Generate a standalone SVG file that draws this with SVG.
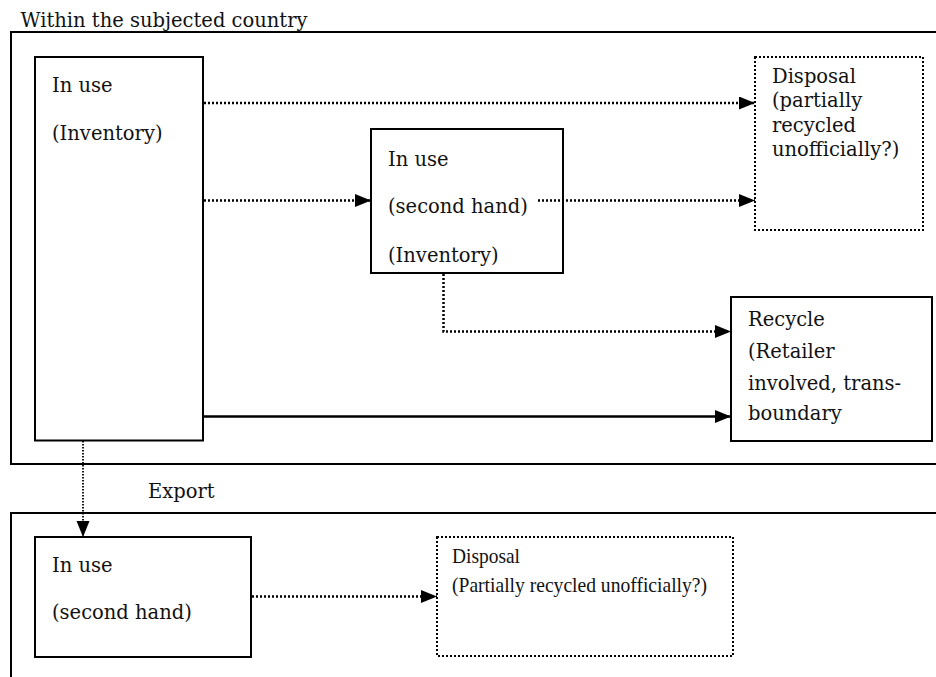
<svg xmlns="http://www.w3.org/2000/svg" width="936" height="677" viewBox="0 0 936 677">
  <style>
    .frame { fill: none; stroke: #000; stroke-width: 2; }
    .box { fill: #fff; stroke: #000; stroke-width: 2; }
    .dbox { fill: #fff; stroke: #000; stroke-width: 2; stroke-dasharray: 2 2; }
    .t { font-family: "DejaVu Serif", serif; font-size: 19.5px; fill: #111; }
    .tn { font-family: "Liberation Serif", serif; font-size: 22px; fill: #111; }
    .flow { fill: none; stroke: #000; stroke-width: 2.5; stroke-dasharray: 2 2; }
    .solid { fill: none; stroke: #000; stroke-width: 2.5; }
    .thin { fill: none; stroke: #000; stroke-width: 1.8; stroke-dasharray: 1.5 1.5; }
  </style>
  <defs>
    <marker id="arrow" markerUnits="userSpaceOnUse" markerWidth="17" markerHeight="14" refX="16" refY="6.5" orient="auto">
      <path d="M0,0 L16,6.5 L0,13 z" fill="#000"/>
    </marker>
  </defs>
  <rect width="936" height="677" fill="#fff"/>

  <!-- Regions -->
  <g id="domestic-region">
    <rect class="frame" x="11" y="32" width="940" height="432"/>
    <text class="t" x="20.5" y="27">Within the subjected country</text>
  </g>
  <g id="export-region">
    <rect class="frame" x="11" y="513" width="940" height="200"/>
    <text class="t" x="148" y="498">Export</text>
  </g>

  <!-- Nodes -->
  <g id="in-use-inventory">
    <rect class="box" x="35" y="57" width="168" height="383.5"/>
    <text class="t" x="52" y="92">In use</text>
    <text class="t" x="52" y="140">(Inventory)</text>
  </g>
  <g id="in-use-second-hand">
    <rect class="box" x="371" y="129" width="192" height="144"/>
    <text class="t" x="388" y="166">In use</text>
    <text class="t" x="388" y="213">(second hand)</text>
    <text class="t" x="388" y="262">(Inventory)</text>
  </g>
  <g id="disposal">
    <rect class="dbox" x="755" y="57" width="168" height="173"/>
    <text class="t" x="772" y="83">Disposal</text>
    <text class="t" x="772" y="107">(partially</text>
    <text class="t" x="772" y="132">recycled</text>
    <text class="t" x="772" y="156">unofficially?)</text>
  </g>
  <g id="recycle">
    <rect class="box" x="731" y="297" width="201" height="144"/>
    <text class="t" x="748" y="326">Recycle</text>
    <text class="t" x="748" y="358">(Retailer</text>
    <text class="t" x="748" y="390">involved, trans-</text>
    <text class="t" x="748" y="420">boundary</text>
  </g>
  <g id="export-in-use">
    <rect class="box" x="35" y="537" width="216" height="120"/>
    <text class="t" x="52" y="572">In use</text>
    <text class="t" x="52" y="619">(second hand)</text>
  </g>
  <g id="export-disposal">
    <rect class="dbox" x="437" y="537" width="296" height="119"/>
    <text class="tn" x="452" y="563" textLength="68" lengthAdjust="spacingAndGlyphs">Disposal</text>
    <text class="tn" x="452" y="592" textLength="255" lengthAdjust="spacingAndGlyphs">(Partially recycled unofficially?)</text>
  </g>

  <!-- Connectors -->
  <g id="connectors">
    <line class="flow" x1="204" y1="103" x2="755" y2="103" marker-end="url(#arrow)"/>
    <line class="flow" x1="204" y1="200.5" x2="371" y2="200.5" marker-end="url(#arrow)"/>
    <line class="flow" x1="538" y1="200.5" x2="755" y2="200.5" marker-end="url(#arrow)"/>
    <polyline class="flow" points="443.5,274 443.5,331.5 731,331.5" marker-end="url(#arrow)"/>
    <line class="solid" x1="204" y1="416.5" x2="731" y2="416.5" marker-end="url(#arrow)"/>
    <line class="thin" x1="83" y1="441" x2="83" y2="537" marker-end="url(#arrow)"/>
    <line class="flow" x1="252" y1="596.5" x2="437" y2="596.5" marker-end="url(#arrow)"/>
  </g>
</svg>
